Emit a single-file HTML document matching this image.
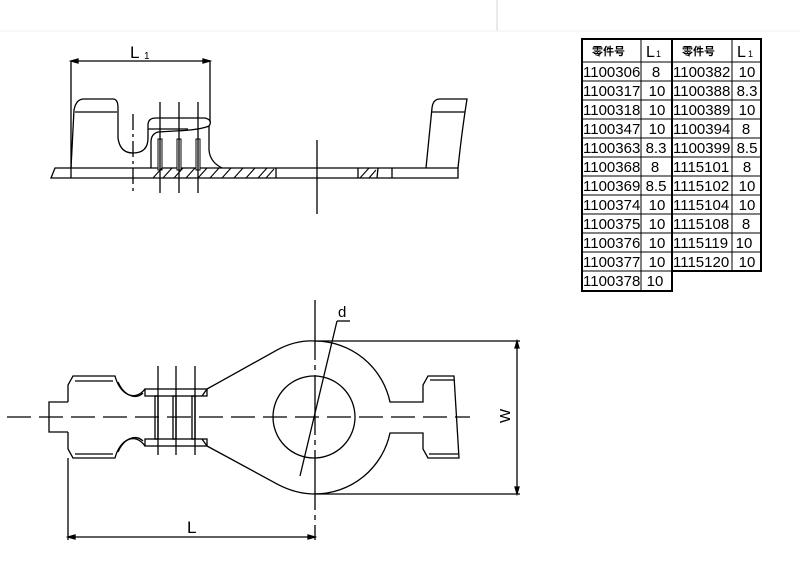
<!DOCTYPE html>
<html><head><meta charset="utf-8"><style>
html,body{margin:0;padding:0;background:#fff;}
svg{display:block}
text{font-family:"Liberation Sans","Noto Sans CJK SC",sans-serif;fill:#000}
</style></head><body>
<svg width="800" height="584" viewBox="0 0 800 584" xmlns="http://www.w3.org/2000/svg">
<g stroke="#000" fill="none" stroke-width="1.3">
<line x1="497" y1="0" x2="497" y2="31" stroke="#ddd"/>
<line x1="0" y1="31" x2="800" y2="31" stroke="#f2f2f2"/>

<!-- TOP VIEW -->
<line x1="71" y1="61" x2="210" y2="61"/>
<path d="M71,61 l7,-2 v4z M210,61 l-7,-2 v4z" fill="#000"/>
<line x1="71" y1="61" x2="71" y2="178"/>
<line x1="210" y1="61" x2="210" y2="122"/>
<path d="M55,168 L458,168 L458,178 L51,178 Z"/>
<path d="M71,168 L74,110 Q76,99 84,99 L113,99 Q118,99 118,108 L118,138 Q120,153 133,153 Q148,153 148,138 L148,125 Q148,118 156,118 L205,118 Q213,120 209,126 Q200,130 175,131 L158,132 Q151,134 151,142 L151,168"/>
<line x1="75" y1="112" x2="117" y2="112"/>
<line x1="148" y1="129" x2="188" y2="129"/>
<path d="M209,126 L209,150 Q210,162 222,168"/>
<g stroke-width="1"><rect x="158" y="139" width="4" height="31" fill="#fff"/>
<rect x="177" y="139" width="4" height="31" fill="#fff"/>
<rect x="196" y="139" width="4" height="31" fill="#fff"/></g>
<line x1="160" y1="102" x2="160" y2="193"/>
<line x1="179" y1="102" x2="179" y2="193"/>
<line x1="198" y1="102" x2="198" y2="193"/>
<line x1="133" y1="114" x2="133" y2="193" stroke-dasharray="16,4,3,4"/>
<g stroke-width="1.1">
<line x1="153" y1="178" x2="162" y2="168"/><line x1="163" y1="178" x2="172" y2="168"/><line x1="174" y1="178" x2="183" y2="168"/>
<line x1="186" y1="178" x2="195" y2="168"/><line x1="198" y1="178" x2="207" y2="168"/><line x1="210" y1="178" x2="219" y2="168"/>
<line x1="222" y1="178" x2="231" y2="168"/><line x1="234" y1="178" x2="243" y2="168"/><line x1="246" y1="178" x2="255" y2="168"/>
<line x1="258" y1="178" x2="267" y2="168"/><line x1="266" y1="178" x2="274" y2="169"/>
<line x1="360" y1="178" x2="369" y2="168"/><line x1="369" y1="178" x2="376" y2="170"/>
</g>
<line x1="276" y1="168" x2="276" y2="178"/>
<line x1="358" y1="168" x2="358" y2="178"/>
<line x1="378" y1="168" x2="377" y2="178"/>
<line x1="392" y1="168" x2="392" y2="178"/>
<line x1="317" y1="140" x2="317" y2="214"/>
<path d="M426,168 L432,108 Q433,99 440,99 L467,99 Q462,130 458,168"/>
<line x1="432" y1="112" x2="465" y2="112"/>

<!-- BOTTOM VIEW -->
<line x1="7" y1="417" x2="470" y2="417" stroke-dasharray="24,8"/>
<line x1="315" y1="300" x2="315" y2="540" stroke-dasharray="60,5,5,5"/>
<path d="M207,389 L277.6,349.7 Q296,340 315,341 A77,77 0 0 1 390,402 L423,402 L423,385 L428,376 L454,376 L459,458 L428,458 L423,449 L423,433 L390,433 A77,77 0 0 1 315,494 Q296,494 277.6,484.3 L207,446"/>
<line x1="430" y1="380" x2="454" y2="380"/>
<line x1="429" y1="454" x2="458" y2="454"/>
<circle cx="314" cy="417" r="41"/>
<line x1="337" y1="321" x2="300" y2="476"/>
<line x1="337" y1="321" x2="350" y2="321"/>
<line x1="315" y1="341" x2="520" y2="341"/>
<line x1="315" y1="494" x2="520" y2="494"/>
<line x1="517" y1="341" x2="517" y2="494"/>
<path d="M517,341 l-2,7 h4z M517,494 l-2,-7 h4z" fill="#000"/>
<path d="M68,402 L49,402 L49,432 L68,432"/>
<path d="M68,402 L68,385 L73,376 L115,376 C120,395 135,402 145,389"/>
<path d="M68,432 L68,449 L73,458 L115,458 C120,439 135,432 145,446"/>
<line x1="75" y1="381" x2="113" y2="381"/>
<line x1="75" y1="454" x2="113" y2="454"/>
<path d="M118,382 C124,396 136,400 143,393"/>
<path d="M118,452 C124,438 136,434 143,441"/>
<rect x="145" y="389" width="62" height="7"/>
<rect x="145" y="439" width="62" height="7"/>
<line x1="207" y1="389" x2="202" y2="396"/>
<line x1="207" y1="446" x2="202" y2="439"/>
<rect x="155" y="396" width="3" height="43"/>
<rect x="173" y="396" width="3" height="43"/>
<rect x="192" y="396" width="3" height="43"/>
<line x1="158" y1="366" x2="158" y2="455"/>
<line x1="176" y1="366" x2="176" y2="455"/>
<line x1="195" y1="366" x2="195" y2="455"/>
<line x1="68" y1="458" x2="68" y2="540"/>
<line x1="68" y1="537" x2="315" y2="537"/>
<path d="M68,537 l7,-2 v4z M315,537 l-7,-2 v4z" fill="#000"/>

<!-- TABLE -->
<rect x="582" y="39" width="179" height="252" stroke-width="1"/>
<rect x="582" y="39" width="90" height="252" stroke-width="2"/>
<rect x="672" y="39" width="89" height="232" stroke-width="2"/>
<g stroke-width="1">
<line x1="641" y1="39" x2="641" y2="291"/>
<line x1="732" y1="39" x2="732" y2="271"/>
<line x1="582" y1="62" x2="761" y2="62"/>
<line x1="582" y1="81" x2="761" y2="81"/>
<line x1="582" y1="100" x2="761" y2="100"/>
<line x1="582" y1="119" x2="761" y2="119"/>
<line x1="582" y1="138" x2="761" y2="138"/>
<line x1="582" y1="157" x2="761" y2="157"/>
<line x1="582" y1="176" x2="761" y2="176"/>
<line x1="582" y1="195" x2="761" y2="195"/>
<line x1="582" y1="214" x2="761" y2="214"/>
<line x1="582" y1="233" x2="761" y2="233"/>
<line x1="582" y1="252" x2="761" y2="252"/>
<line x1="582" y1="271" x2="761" y2="271"/>
</g>
</g>
<rect x="673" y="272" width="90" height="22" fill="#fff"/>
<line x1="672" y1="271" x2="672" y2="292" stroke="#000" stroke-width="2"/>

<text x="130" y="58" font-size="17">L</text><text x="144" y="59" font-size="10">1</text>
<text x="187" y="533" font-size="17">L</text>
<text x="338" y="317" font-size="15">d</text>
<text x="0" y="0" font-size="15" transform="translate(510,423) rotate(-90)">W</text>

<g>
<text x="592" y="55" font-size="11" font-weight="bold">零件号</text>
<text x="646" y="57" font-size="16">L</text><text x="656" y="57" font-size="9">1</text>
<text x="682" y="55" font-size="11" font-weight="bold">零件号</text>
<text x="737" y="57" font-size="16">L</text><text x="748" y="57" font-size="9">1</text>
</g>
<g font-size="15">
<text x="583" y="77">1100306</text><text x="656" y="77" text-anchor="middle">8</text><text x="673" y="77">1100382</text><text x="747" y="77" text-anchor="middle">10</text>
<text x="583" y="96">1100317</text><text x="657" y="96" text-anchor="middle">10</text><text x="673" y="96">1100388</text><text x="747" y="96" text-anchor="middle">8.3</text>
<text x="583" y="115">1100318</text><text x="657" y="115" text-anchor="middle">10</text><text x="673" y="115">1100389</text><text x="747" y="115" text-anchor="middle">10</text>
<text x="583" y="134">1100347</text><text x="657" y="134" text-anchor="middle">10</text><text x="673" y="134">1100394</text><text x="746" y="134" text-anchor="middle">8</text>
<text x="583" y="153">1100363</text><text x="656" y="153" text-anchor="middle">8.3</text><text x="673" y="153">1100399</text><text x="747" y="153" text-anchor="middle">8.5</text>
<text x="583" y="172">1100368</text><text x="655" y="172" text-anchor="middle">8</text><text x="673" y="172">1115101</text><text x="747" y="172" text-anchor="middle">8</text>
<text x="583" y="191">1100369</text><text x="656" y="191" text-anchor="middle">8.5</text><text x="673" y="191">1115102</text><text x="747" y="191" text-anchor="middle">10</text>
<text x="583" y="210">1100374</text><text x="657" y="210" text-anchor="middle">10</text><text x="673" y="210">1115104</text><text x="747" y="210" text-anchor="middle">10</text>
<text x="583" y="229">1100375</text><text x="657" y="229" text-anchor="middle">10</text><text x="673" y="229">1115108</text><text x="746" y="229" text-anchor="middle">8</text>
<text x="583" y="248">1100376</text><text x="657" y="248" text-anchor="middle">10</text><text x="673" y="248">1115119</text><text x="744" y="248" text-anchor="middle">10</text>
<text x="583" y="267">1100377</text><text x="657" y="267" text-anchor="middle">10</text><text x="673" y="267">1115120</text><text x="747" y="267" text-anchor="middle">10</text>
<text x="583" y="286">1100378</text><text x="655" y="286" text-anchor="middle">10</text>
</g>
</svg>
</body></html>
